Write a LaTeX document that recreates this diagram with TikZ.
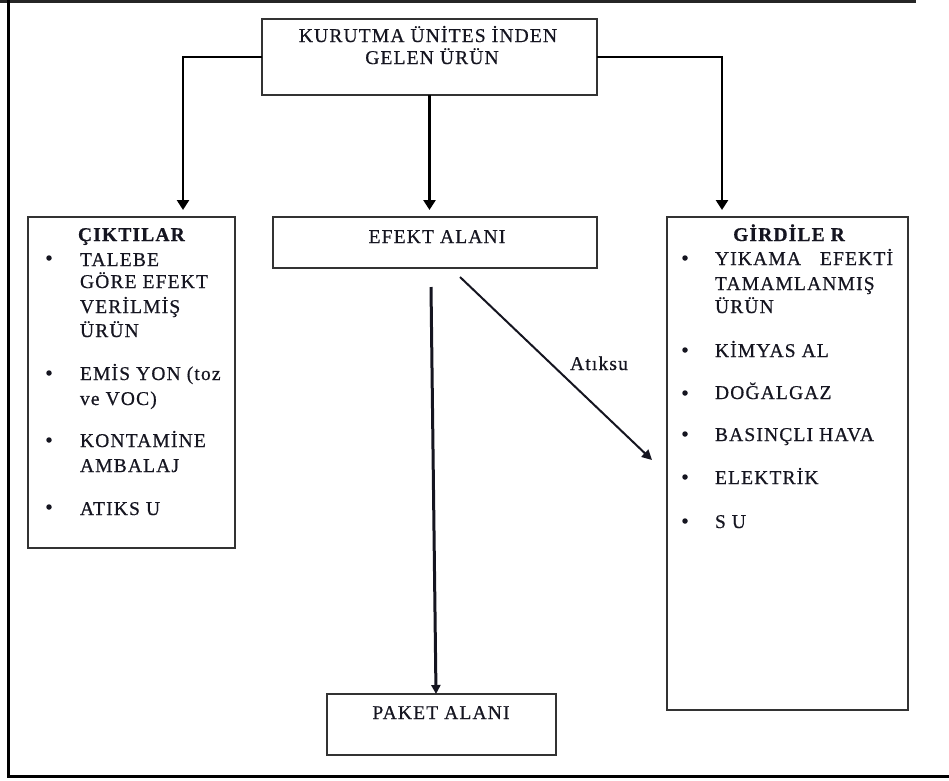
\documentclass[tikz,border=0pt]{standalone}
\usepackage{fontspec}
\setmainfont{Liberation Serif}[LetterSpace=6,FakeBold=0.6]
\usetikzlibrary{arrows.meta}
\definecolor{ink}{HTML}{151520}
\definecolor{boxline}{HTML}{333333}
\begin{document}
\begin{tikzpicture}[x=1pt,y=-1pt,
  box/.style={draw=boxline,line width=1.3pt,anchor=north west,inner sep=0pt,outer sep=0pt},
  txt/.style={inner sep=0pt,outer sep=0pt,text=ink,font=\fontsize{19.5}{23}\selectfont},
  hd/.style={txt,font=\fontsize{19.5}{23}\selectfont\bfseries},
  conn/.style={line width=2.6pt,black,-{Triangle[length=10pt,width=12pt]}},
  dot/.style={circle,fill=ink,inner sep=0pt,minimum size=5.5pt}]
\useasboundingbox (0,0) rectangle (949,780);
% outer frame
\coordinate (f1) at (916,1.3);
\coordinate (f2) at (8.7,0);
\coordinate (f3) at (8.7,776.8);
\coordinate (f4) at (949,776.8);
\draw[line width=2.6pt,black!85] (0,1.3) -- (f1);
\draw[line width=3.2pt,black] (f2) -- (f3) -- (f4);
% boxes
\node[box,minimum width=335pt,minimum height=76pt] (top) at (262,19) {};
\node[box,minimum width=324pt,minimum height=51pt] (efekt) at (273,217) {};
\node[box,minimum width=207pt,minimum height=331pt] (cikti) at (28,217) {};
\node[box,minimum width=241pt,minimum height=493pt] (girdi) at (667,217) {};
\node[box,minimum width=229pt,minimum height=61pt] (paket) at (327,694) {};
% box texts
\node[txt,anchor=base] (t1) at (428,42) {KURUTMA ÜNİTES İNDEN};
\node[txt,anchor=base] (t2) at (432,64) {GELEN ÜRÜN};
\node[txt,anchor=base] (te) at (437,243) {EFEKT ALANI};
\node[txt,anchor=base] (tp) at (441,719) {PAKET ALANI};
\node[hd,anchor=base west] (hc) at (78,241) {ÇIKTILAR};
\node[hd,anchor=base] (hg) at (789,241) {GİRDİLE R};
% left list
\foreach \yy/\tt [count=\i] in {266/TALEBE,288/GÖRE EFEKT,313/VERİLMİŞ,337/ÜRÜN,380/EMİS YON (toz,405/ve VOC),447/KONTAMİNE,472/AMBALAJ,515/ATIKS U}
  \node[txt,anchor=base west] (l\i) at (80,\yy) {\tt};
\foreach \yy [count=\i] in {258,373,440,507}
  \node[dot] (lb\i) at (49,\yy) {};
% right list
\node[txt,anchor=base west] (r1) at (715,265) {\makebox[178pt][s]{YIKAMA EFEKTİ}};
\foreach \yy/\tt [count=\i from 2] in {290/TAMAMLANMIŞ,313/ÜRÜN,357/KİMYAS AL,399/DOĞALGAZ,441/BASINÇLI HAVA,484/ELEKTRİK,528/S U}
  \node[txt,anchor=base west] (r\i) at (715,\yy) {\tt};
\foreach \yy [count=\i] in {258,350,393,434,477,521}
  \node[dot] (rb\i) at (685,\yy) {};
% connectors
\draw[conn,shorten >=7pt] (top.west) -| ([xshift=155pt]cikti.north west);
\draw[conn,shorten >=7pt] (top.east) -| ([xshift=55pt]girdi.north west);
\draw[conn,shorten >=7pt] (top.south) -- (top.south |- efekt.north);
\coordinate (v0) at (431,287);
\draw[line width=3pt,ink,-{Triangle[length=9pt,width=9pt]}] (v0) -- ([xshift=-5.5pt]paket.north);
\coordinate (d0) at (460,277);
\coordinate (d1) at (652,460);
\draw[line width=2pt,ink,-{Triangle[length=10pt,width=10pt]}] (d0) -- (d1);
\node[txt,anchor=base] (ak) at (599,370) {Atıksu};
\end{tikzpicture}
\end{document}
